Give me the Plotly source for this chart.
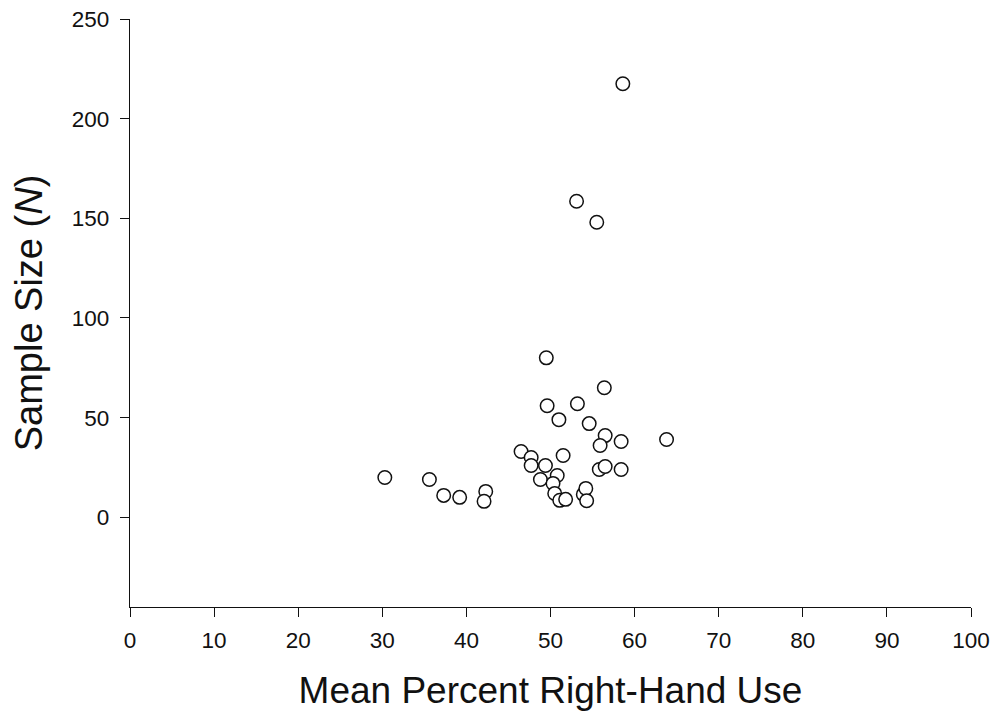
import plotly.graph_objects as go

# Mean percent right-hand use (x) and sample size N (y)
right_hand_pct = [30.3, 35.6, 37.3, 39.2, 42.3, 42.1, 46.5, 47.7, 47.7, 49.4,
                  51.5, 48.8, 50.8, 50.3, 50.5, 51.1, 51.8, 53.9, 54.2, 54.3,
                  49.5, 49.6, 53.2, 51.0, 54.6, 56.4, 56.5, 55.9, 58.4, 63.8,
                  55.8, 56.5, 58.4, 58.6, 53.1, 55.5]
sample_size = [20, 19, 11, 10, 13, 8, 33, 30, 26, 26,
               31, 19, 21, 17, 12, 8.5, 9, 11.5, 14.5, 8.3,
               80, 56, 57, 49, 47, 65, 41, 36, 38, 39,
               24, 25.5, 24, 217.5, 158.6, 148]

x_ticks = [0, 10, 20, 30, 40, 50, 60, 70, 80, 90, 100]
y_ticks = [0, 50, 100, 150, 200, 250]

FONT = "Liberation Sans, Arial, Helvetica, sans-serif"
INK = "#111111"

fig = go.Figure()
fig.add_trace(go.Scatter(
    x=right_hand_pct, y=sample_size, mode="markers",
    marker=dict(size=13.5, color="white", line=dict(color=INK, width=1.5)),
    showlegend=False, hoverinfo="x+y",
))

fig.update_layout(
    width=991, height=717,
    margin=dict(l=122, r=28, t=11, b=118),
    paper_bgcolor="white", plot_bgcolor="white",
    font=dict(family=FONT, color=INK),
    xaxis=dict(
        range=[0, 100], tickvals=x_ticks, ticktext=[str(v) for v in x_ticks],
        showgrid=False, zeroline=False, showline=True, linecolor=INK, linewidth=1.3,
        ticks="outside", ticklen=9, tickwidth=1.3, tickcolor=INK,
        tickfont=dict(size=22.5, family=FONT, color=INK), ticklabelstandoff=4,
        ticklabeloverflow="allow",
        title=dict(text="Mean Percent Right-Hand Use", font=dict(size=37, family=FONT, color=INK), standoff=24),
        automargin=False,
    ),
    yaxis=dict(
        range=[-45, 250], tickvals=y_ticks, ticktext=[str(v) for v in y_ticks],
        showgrid=False, zeroline=False, showline=True, linecolor=INK, linewidth=1.3,
        ticks="outside", ticklen=9, tickwidth=1.3, tickcolor=INK,
        tickfont=dict(size=22.5, family=FONT, color=INK), ticklabelstandoff=6,
        ticklabeloverflow="allow",
        title=dict(text="Sample Size (<i>N</i>)", font=dict(size=38, family=FONT, color=INK), standoff=22),
        automargin=False,
    ),
)

fig.write_html("out.html")
